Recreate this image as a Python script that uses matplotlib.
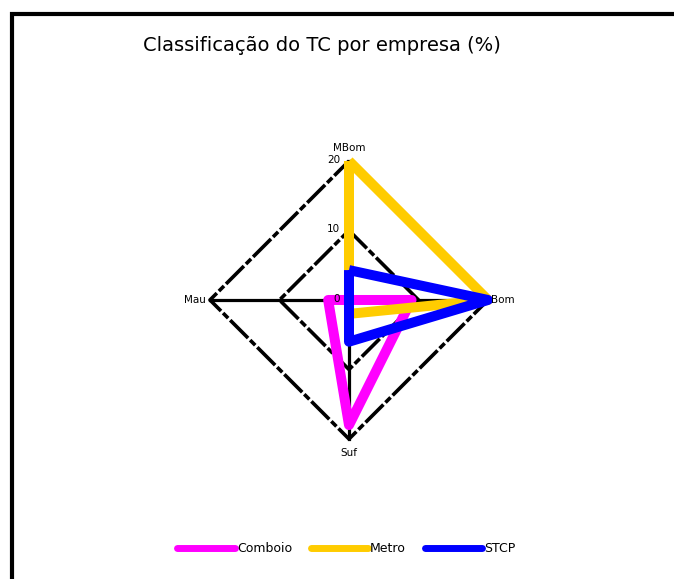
import numpy as np
import matplotlib.pyplot as plt
from matplotlib.patches import Rectangle

# categories, clockwise starting from the top
categories = ['MBom', 'Bom', 'Suf', 'Mau']
series_names = ['Comboio', 'Metro', 'STCP']
comboio = [0, 9, 18, 3]
metro = [20, 20, 2, 0]
stcp = [4.3, 20, 6, 0]
colors = ['#FF00FF', '#FFCC00', '#0000FF']
grid_levels = [10, 20]
tick_labels = ['0', '10', '20']

angles = np.pi / 2 - np.arange(len(categories)) * 2 * np.pi / len(categories)


def to_xy(values):
    v = np.asarray(values + values[:1], dtype=float)
    a = np.concatenate([angles, angles[:1]])
    return v * np.cos(a), v * np.sin(a)


fig = plt.figure(figsize=(6.74, 5.79), dpi=100)
fig.patches.append(Rectangle((11.5 / 674, -0.1), 1.1, 1.1 - 14 / 579,
                             transform=fig.transFigure, fill=False,
                             edgecolor='black', linewidth=3, zorder=0))

ax = fig.add_axes([0.26, 0.1818, 0.5156, 0.6002])
ax.set_xlim(-25, 25)
ax.set_ylim(-25, 25)
ax.set_aspect('equal')
ax.axis('off')

# spokes
for a in angles:
    ax.plot([0, 20 * np.cos(a)], [0, 20 * np.sin(a)], color='black', lw=2.3, zorder=1)

# polygon grid
for lev in grid_levels:
    gx, gy = to_xy([lev] * len(categories))
    ax.plot(gx, gy, color='black', lw=2.6, dashes=(7, 0.8, 2, 0.8), zorder=1)

# series
handles = []
for name, vals, c in zip(series_names, [comboio, metro, stcp], colors):
    x, y = to_xy(vals)
    h, = ax.plot(x, y, color=c, lw=7.2, solid_joinstyle='round',
                 solid_capstyle='butt', label=name, zorder=2)
    handles.append(h)

# category labels
ax.text(0, 21.2, 'MBom', ha='center', va='bottom', fontsize=7.5)
ax.text(20.4, 0, 'Bom', ha='left', va='center', fontsize=7.5, zorder=3)
ax.text(0, -21.3, 'Suf', ha='center', va='top', fontsize=7.5)
ax.text(-20.6, 0, 'Mau', ha='right', va='center', fontsize=7.5)

# radial tick labels
for lab, lev in zip(tick_labels, [0] + grid_levels):
    ax.text(-1.3, lev + 0.2, lab, ha='right', va='center', fontsize=7.5, zorder=3)

fig.text(0.477, 0.922, 'Classificação do TC por empresa (%)', ha='center',
         va='center', fontsize=14)

leg = fig.legend(handles=[plt.Line2D([], [], color=c, lw=5, solid_capstyle='round')
                          for c in colors],
                 labels=series_names, loc='center', ncol=3,
                 bbox_to_anchor=(0.514, 1 - 549 / 579), frameon=False,
                 fontsize=9, handlelength=4.6, handletextpad=0.15,
                 columnspacing=1.5)

fig.savefig('out.png', dpi=100)
